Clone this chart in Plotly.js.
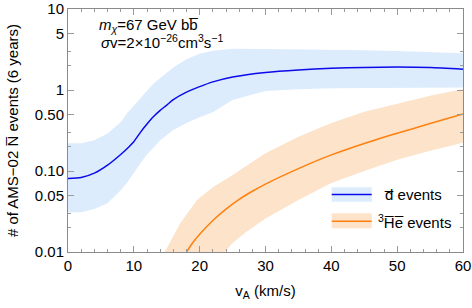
<!DOCTYPE html>
<html>
<head>
<meta charset="utf-8">
<script src="https://cdn.plot.ly/plotly-3.0.1.min.js"></script>
<style>html,body{margin:0;padding:0;background:#fff;}#chart{width:472px;height:308px;}</style>
</head>
<body>
<div id="chart"></div>
<script>
// anti-deuteron events: central curve and uncertainty band
var dX = [0, 2, 4, 6, 8, 9, 10, 11, 12, 13, 14, 15, 16, 18, 20, 22, 25, 30, 35, 40, 45, 50, 55, 60];
var dCentral = [0.081, 0.083, 0.094, 0.118, 0.16, 0.19, 0.23, 0.30, 0.38, 0.47, 0.56, 0.65, 0.76, 0.94, 1.1, 1.26, 1.45, 1.65, 1.77, 1.85, 1.9, 1.92, 1.89, 1.80];
var dUpper = [0.22, 0.22, 0.24, 0.29, 0.40, 0.52, 0.64, 0.80, 0.98, 1.2, 1.4, 1.65, 1.9, 2.4, 2.8, 3.05, 3.22, 3.2, 3.18, 3.15, 3.1, 3.03, 2.94, 2.84];
var dLower = [0.031, 0.031, 0.034, 0.040, 0.058, 0.072, 0.095, 0.125, 0.16, 0.195, 0.24, 0.28, 0.32, 0.39, 0.46, 0.53, 0.75, 0.97, 1.02, 1.05, 1.06, 1.07, 1.07, 1.07];

// anti-helium-3 events
var heX = [18, 19, 20, 22, 24, 26, 28, 30, 35, 40, 45, 50, 55, 60];
var heCentral = [0.01, 0.0132, 0.0166, 0.0245, 0.0339, 0.0447, 0.0562, 0.069, 0.107, 0.158, 0.219, 0.292, 0.385, 0.506];
var heUpperX = [14.7, 17, 19.6, 22, 24.6, 27, 30, 35, 40, 45, 50, 55.5, 60];
var heUpper = [0.01, 0.0224, 0.044, 0.063, 0.085, 0.115, 0.166, 0.265, 0.39, 0.54, 0.68, 0.87, 1.02];
var heLowerX = [23.8, 25, 27, 30, 35, 40, 45, 50, 55, 60];
var heLower = [0.01, 0.0129, 0.0175, 0.026, 0.044, 0.071, 0.10, 0.138, 0.178, 0.224];

// axis ticks
var yTickVals = [0.01, 0.05, 0.1, 0.5, 1, 5, 10];
var yTickText = ['0.01', '0.05', '0.10', '0.50', '1', '5', '10'];
var yMinorVals = [0.02, 0.03, 0.2, 0.3, 2, 3];

var blueBand = 'rgb(220,236,252)';
var orangeBand = 'rgb(253,227,202)';
var blueLine = 'rgb(10,10,235)';
var orangeLine = 'rgb(255,128,14)';

function poly(xu, yu, xl, yl) {
  return {
    x: xu.concat(xl.slice().reverse()),
    y: yu.concat(yl.slice().reverse())
  };
}
var dPoly = poly(dX, dUpper, dX, dLower);
var hePoly = poly(heUpperX, heUpper, heLowerX, heLower);

var traces = [
  {x: dPoly.x, y: dPoly.y, type: 'scatter', mode: 'lines', fill: 'toself',
   fillcolor: blueBand, line: {width: 0, color: blueBand}, hoverinfo: 'skip', showlegend: false},
  {x: hePoly.x, y: hePoly.y, type: 'scatter', mode: 'lines', fill: 'toself',
   fillcolor: orangeBand, line: {width: 0, color: orangeBand}, hoverinfo: 'skip', showlegend: false},
  {x: dX, y: dCentral, type: 'scatter', mode: 'lines', line: {color: blueLine, width: 1.5, shape: 'spline', smoothing: 0.6}, showlegend: false},
  {x: heX, y: heCentral, type: 'scatter', mode: 'lines', line: {color: orangeLine, width: 1.5, shape: 'spline', smoothing: 0.6}, showlegend: false}
];

var font = 'Liberation Sans, Arial, sans-serif';
var axCol = '#8a8a8a';
var tickCol = '#9a9a9a';

var layout = {
  width: 472, height: 308,
  margin: {l: 68, r: 9, t: 9, b: 56},
  paper_bgcolor: '#fff', plot_bgcolor: '#fff',
  font: {family: font, size: 15, color: '#000'},
  showlegend: false,
  xaxis: {
    range: [0, 60], dtick: 10, tick0: 0,
    ticks: 'inside', ticklen: 6, tickwidth: 1, tickcolor: tickCol,
    showline: true, linecolor: axCol, linewidth: 1, mirror: 'allticks',
    showgrid: false, zeroline: false,
    minor: {dtick: 2, ticks: 'inside', ticklen: 3, tickcolor: tickCol, showgrid: false},
    tickfont: {family: font, size: 15, color: '#000'},
    title: {text: 'v<sub>A</sub> (km/s)', font: {family: font, size: 15, color: '#000'}, standoff: 12}
  },
  yaxis: {
    type: 'log', range: [-2, 1],
    tickmode: 'array', tickvals: yTickVals, ticktext: yTickText,
    ticks: 'inside', ticklen: 6, tickwidth: 1, tickcolor: tickCol,
    showline: true, linecolor: axCol, linewidth: 1, mirror: 'allticks',
    showgrid: false, zeroline: false,
    minor: {tickmode: 'array', tickvals: yMinorVals, ticks: 'inside', ticklen: 3, tickcolor: tickCol, showgrid: false},
    tickfont: {family: font, size: 15, color: '#000'},
    title: {text: '# of AMS\u221202 N\u0305 events (6 years)', font: {family: font, size: 15, color: '#000'}, standoff: 12}
  },
  shapes: [
    {type: 'rect', xref: 'paper', yref: 'paper', x0: 0.6676, x1: 0.7689, y0: 0.207, y1: 0.266, fillcolor: blueBand, line: {width: 0}},
    {type: 'line', xref: 'paper', yref: 'paper', x0: 0.6676, x1: 0.7689, y0: 0.2365, y1: 0.2365, line: {color: blueLine, width: 1.5}},
    {type: 'rect', xref: 'paper', yref: 'paper', x0: 0.6676, x1: 0.7689, y0: 0.0975, y1: 0.159, fillcolor: orangeBand, line: {width: 0}},
    {type: 'line', xref: 'paper', yref: 'paper', x0: 0.6676, x1: 0.7689, y0: 0.1265, y1: 0.1265, line: {color: orangeLine, width: 1.5}}
  ],
  annotations: [
    {xref: 'paper', yref: 'paper', x: 0.0727, y: 0.934, xanchor: 'left', yanchor: 'middle', showarrow: false,
     text: '<i>m</i><sub><i>\u03c7</i></sub>=67 GeV bb\u0305', font: {family: font, size: 15, color: '#000'}},
    {xref: 'paper', yref: 'paper', x: 0.079, y: 0.865, xanchor: 'left', yanchor: 'middle', showarrow: false,
     text: '<i>\u03c3</i>v=2\u00d710<sup>\u221226</sup>cm<sup>3</sup>s<sup>\u22121</sup>', font: {family: font, size: 15, color: '#000'}},
    {xref: 'paper', yref: 'paper', x: 0.794, y: 0.2365, xanchor: 'left', yanchor: 'middle', showarrow: false,
     text: 'd\u0305 events', font: {family: font, size: 15, color: '#000'}},
    {xref: 'paper', yref: 'paper', x: 0.781, y: 0.1265, xanchor: 'left', yanchor: 'middle', showarrow: false,
     text: '<sup>3</sup>H\u0305e\u0305 events', font: {family: font, size: 15, color: '#000'}}
  ]
};

Plotly.newPlot('chart', traces, layout, {displayModeBar: false, staticPlot: true});
</script>
</body>
</html>
